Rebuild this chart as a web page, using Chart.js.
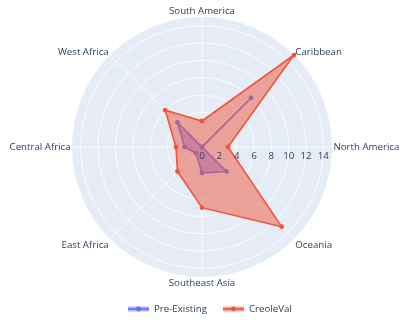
<!DOCTYPE html>
<html>
<head>
<meta charset="utf-8">
<script src="https://cdn.jsdelivr.net/npm/chart.js@4"></script>
<style>
html, body { margin: 0; padding: 0; background: #fff; }
#chart { display: block; }
</style>
</head>
<body>
<canvas id="chart" width="409" height="320"></canvas>
<script>
// Regions, clockwise starting from the east (startAngle 90)
const regions = ['North America', 'Oceania', 'Southeast Asia', 'East Africa',
                 'Central Africa', 'West Africa', 'South America', 'Caribbean'];
const creoleVal = [3, 13, 7, 4, 3, 6, 3, 15];
const preExisting = [0, 4, 3, 1, 2, 4, 0, 8];
const radialTicks = [0, 2, 4, 6, 8, 10, 12, 14];
const radialMax = 15;

const textColor = '#2a3f5f';
const fontFamily = '"Open Sans", sans-serif';
const fontSize = 9.7;

// Radial tick labels along the east spoke, just below the axis line
const radialTickLabels = {
    id: 'radialTickLabels',
    afterDatasetsDraw(chart) {
        const scale = chart.scales.r;
        const ctx = chart.ctx;
        ctx.save();
        ctx.font = `${fontSize}px ${fontFamily}`;
        ctx.fillStyle = textColor;
        ctx.textAlign = 'center';
        ctx.textBaseline = 'middle';
        radialTicks.forEach(value => {
            const pos = scale.getPointPositionForValue(0, value);
            ctx.fillText(String(value), pos.x, pos.y + 8.8);
        });
        ctx.restore();
    }
};

// Category labels around the outer circle
const angleLabels = {
    id: 'angleLabels',
    afterDraw(chart) {
        const scale = chart.scales.r;
        const ctx = chart.ctx;
        const r = scale.drawingArea;
        ctx.save();
        ctx.font = `${fontSize}px ${fontFamily}`;
        ctx.fillStyle = textColor;
        ctx.textBaseline = 'middle';
        regions.forEach((label, i) => {
            const pos = scale.getPointPosition(i, r);
            const cos = (pos.x - scale.xCenter) / r;
            const sin = (scale.yCenter - pos.y) / r;
            let x = pos.x;
            let y = pos.y;
            if (cos > 0.1) {
                ctx.textAlign = 'left';
                x += 1.4;
            } else if (cos < -0.1) {
                ctx.textAlign = 'right';
                x -= 1.4;
            } else {
                ctx.textAlign = 'center';
            }
            y += sin < -0.1 ? 6.6 : -5.5 * sin * sin;
            ctx.fillText(label, x, y);
        });
        ctx.restore();
    }
};

// Plotly-like legend at the bottom
const bottomLegend = {
    id: 'bottomLegend',
    afterDraw(chart) {
        const ctx = chart.ctx;
        const y = 309;
        const starts = [128, 223];
        ctx.save();
        ctx.font = `${fontSize}px ${fontFamily}`;
        ctx.textBaseline = 'middle';
        ctx.textAlign = 'left';
        chart.data.datasets.forEach((ds, i) => {
            const x0 = starts[i];
            ctx.fillStyle = ds.backgroundColor;
            ctx.fillRect(x0, y - 2.5, 21, 5);
            ctx.strokeStyle = ds.borderColor;
            ctx.lineWidth = 1.6;
            ctx.beginPath();
            ctx.moveTo(x0, y);
            ctx.lineTo(x0 + 21, y);
            ctx.stroke();
            ctx.fillStyle = ds.borderColor;
            ctx.beginPath();
            ctx.arc(x0 + 10.5, y, 2.4, 0, Math.PI * 2);
            ctx.fill();
            ctx.fillStyle = textColor;
            ctx.fillText(ds.label, x0 + 26, y);
        });
        ctx.restore();
    }
};

const ctx = document.getElementById('chart').getContext('2d');
new Chart(ctx, {
    type: 'radar',
    data: {
        labels: regions,
        datasets: [{
            label: 'Pre-Existing',
            data: preExisting,
            borderColor: '#636efa',
            backgroundColor: 'rgba(99, 110, 250, 0.5)',
            pointBackgroundColor: '#636efa',
            borderWidth: 1.6,
            pointRadius: 2.4,
            pointBorderWidth: 0,
            fill: true,
            order: 1
        }, {
            label: 'CreoleVal',
            data: creoleVal,
            borderColor: '#ef553b',
            backgroundColor: 'rgba(239, 85, 59, 0.5)',
            pointBackgroundColor: '#ef553b',
            borderWidth: 1.6,
            pointRadius: 2.4,
            pointBorderWidth: 0,
            fill: true,
            order: 0
        }]
    },
    options: {
        responsive: false,
        animation: false,
        layout: {
            padding: { left: 72, top: 17, right: 76, bottom: 42 }
        },
        plugins: {
            legend: { display: false },
            tooltip: { enabled: false }
        },
        elements: {
            line: { tension: 0 }
        },
        scales: {
            r: {
                min: 0,
                max: radialMax,
                startAngle: 90,
                backgroundColor: '#e5ecf6',
                ticks: { display: false, stepSize: 2 },
                pointLabels: { display: false },
                grid: {
                    color: c => c.tick && c.tick.value >= radialMax ? 'rgba(0,0,0,0)' : '#ffffff',
                    lineWidth: 0.8,
                    circular: true
                },
                angleLines: { color: '#ffffff', lineWidth: 0.8 }
            }
        }
    },
    plugins: [radialTickLabels, angleLabels, bottomLegend]
});
</script>
</body>
</html>
